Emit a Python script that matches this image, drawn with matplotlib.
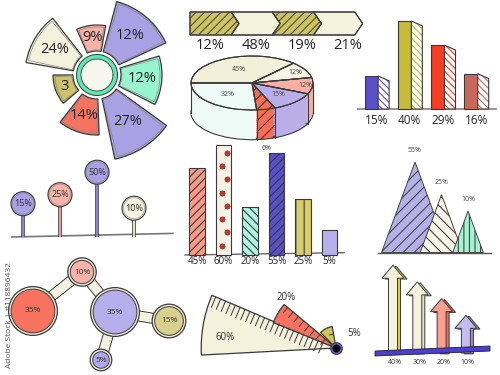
import numpy as np
import matplotlib.pyplot as plt
from matplotlib.patches import Polygon, Wedge

plt.rcParams['font.family'] = ['Open Sans', 'DejaVu Sans']
plt.rcParams['hatch.linewidth'] = 0.8

# ---- data ----
rose_labels = ['12%', '12%', '9%', '24%', '3', '14%', '27%']
rose_len = [65, 76, 50, 72, 44, 60, 86]

chev_labels = ['12%', '48%', '19%', '21%']

bar3d_vals = [15, 40, 29, 16]

pie_vals = [45, 12, 12, 15, 6, 32]

lolli_vals = [15, 25, 50, 10]

bar_vals = [45, 60, 20, 55, 25, 5]

peak_vals = [55, 25, 10]

bubble_vals = [35, 10, 35, 15, 5]

fan_vals = [60, 20, 5]

arrow_vals = [40, 30, 20, 10]

# ---- layout / colours ----
INK = '#3a3a3a'
CREAM = '#f4f2dc'
PURPLE = '#aaa0e4'
PINK = '#f8b2a8'
MINT = '#98f4cf'
OLIVE = '#cbc26a'
RED = '#f8735f'

rose_angle = [-5, 50, 97, 149, 200, 252, 303]
rose_width = [44, 50, 34, 42, 40, 40, 42]
rose_colors = [MINT, PURPLE, PINK, CREAM, OLIVE, RED, PURPLE]

bubble_xy = [(33, 311), (82, 272), (115, 312), (169, 321), (101, 360)]
bubble_links = [(0, 1), (1, 2), (2, 3), (2, 4)]
bubble_colors = [RED, PINK, '#b6aeea', '#d8d08e', '#b0a8ea']

fan_span = [(157, 183), (140, 158), (100, 135)]

W, H = 500, 375
fig = plt.figure(figsize=(5, 3.75), dpi=100)


def panel(x0, y0, x1, y1, ox, oy, sx=1.0, sy=1.0, **kw):
    # axes placed in pixel box; data origin at pixel (ox, oy), sx/sy px per unit
    ax = fig.add_axes([x0 / W, 1 - y1 / H, (x1 - x0) / W, (y1 - y0) / H], **kw)
    ax.set_xlim((x0 - ox) / sx, (x1 - ox) / sx)
    ax.set_ylim((oy - y1) / sy, (oy - y0) / sy)
    ax.set_axis_off()
    return ax


# ---- 1. rose chart ----
cx, cy, R = 97, 75, 95
ax = fig.add_axes([(cx - R) / W, 1 - (cy + R) / H, 2 * R / W, 2 * R / H], projection='polar')
ax.set_ylim(0, R)
ax.set_axis_off()
th = np.deg2rad(rose_angle)
wd = np.deg2rad(rose_width)
ln = np.array(rose_len)
ax.bar(th, ln - 24, width=wd, bottom=24, color=rose_colors, edgecolor=INK, linewidth=0.9)
ax.bar(th, ln - 27, width=wd - np.deg2rad(4), bottom=25, color='none', edgecolor='#888', linewidth=0.5)
for t, r, lab in zip(th, ln, rose_labels):
    ax.text(t, (24 + r) / 2 + 1, lab, ha='center', va='center', fontsize=10.5, color='#222')
ring = np.linspace(0, 2 * np.pi, 200)
ax.fill(ring, np.full(200, 16), color='#f7f6ee', zorder=3)
ax.plot(ring, np.full(200, 18.3), color='#5ee8b2', lw=3.2, zorder=4)
ax.plot(ring, np.full(200, 20.5), color=INK, lw=0.7, zorder=5)
ax.plot(ring, np.full(200, 16), color=INK, lw=0.6, zorder=5)

# ---- 2. chevron progress ----
ax = panel(186, 6, 368, 54, ox=190, oy=35, sx=41.2, sy=23)
d = 0.19
for i, lab in enumerate(chev_labels):
    pts = [(i, 0), (i + 1, 0), (i + 1 + d, 0.5), (i + 1, 1), (i, 1)]
    if i > 0:
        pts.append((i + d, 0.5))
    hatched = i % 2 == 0
    ax.add_patch(Polygon(pts, closed=True, facecolor=OLIVE if hatched else CREAM,
                         edgecolor='#55521e' if hatched else INK, hatch='////' if hatched else None,
                         linewidth=0.8))
    ax.add_patch(Polygon(pts, closed=True, fill=False, edgecolor=INK, linewidth=0.8))
for xl, lab in zip(np.linspace(0.48, 3.83, 4), chev_labels):
    ax.text(xl, -0.45, lab, ha='center', va='center', fontsize=10.5, color='#222')

# ---- 3. 3D bars ----
ax = panel(355, 5, 500, 130, ox=371.5, oy=109, sx=33.2, sy=2.2)
bcols = ['#5b4fc4', '#c8bb3a', '#f43d22', '#c9675c']
xb = np.arange(len(bar3d_vals))
bw, dep, drop = 0.40, 0.33, 2.2
ax.plot([-0.4, 3.75], [0, 0], color='#999', lw=1.5, zorder=0)
ax.bar(xb, bar3d_vals, width=bw, color=bcols, edgecolor=INK, linewidth=0.8, zorder=3)
for x, v, c in zip(xb, bar3d_vals, bcols):
    side = [(x + bw / 2, 0), (x + bw / 2 + dep, 0), (x + bw / 2 + dep, v - drop), (x + bw / 2, v)]
    ax.add_patch(Polygon(side, facecolor='white', edgecolor=c, hatch='\\\\\\\\\\', linewidth=0, zorder=3))
    ax.add_patch(Polygon(side, fill=False, edgecolor=INK, linewidth=0.8, zorder=4))
    ax.text(x + 0.15, -5, f'{v}%', ha='center', va='center', fontsize=8.5, color='#222')

# ---- 4. 3D pie ----
T = 1.1
ax = panel(188, 50, 318, 150, ox=252, oy=83, sx=61, sy=27)
pcols = ['#f2efd8', '#f6f4e4', '#f8b0a4', '#b9aee8', '#f0705a', '#eefaf6']
phatch = [None, None, None, None, '///', None]
nofill = ['none'] * len(pie_vals)
for k, off in enumerate(np.linspace(-T, -0.02, 16)):
    ws, _ = ax.pie(pie_vals, colors=pcols, startangle=180, counterclock=False,
                   center=(0, off), radius=1, hatch=phatch,
                   wedgeprops=dict(linewidth=0, edgecolor=INK))
    for w, h in zip(ws, phatch):
        if h:
            w.set_edgecolor('#6a2418')
            w.set_linewidth(0)
    if k == 0:
        ax.pie(pie_vals, colors=nofill, startangle=180, counterclock=False, center=(0, off),
               wedgeprops=dict(linewidth=0.8, edgecolor=INK))
wedges, _ = ax.pie(pie_vals, colors=pcols, startangle=180, counterclock=False,
                   hatch=phatch, wedgeprops=dict(linewidth=0.8, edgecolor=INK))
for w, h in zip(wedges, phatch):
    if h:
        w.set_edgecolor('#6a2418')
        w.set_linewidth(0)
ax.pie(pie_vals, colors=nofill, startangle=180, counterclock=False,
       wedgeprops=dict(linewidth=0.8, edgecolor=INK))
for w in wedges:
    a = np.deg2rad(w.theta1)
    if np.sin(a) < 0:
        ax.plot([np.cos(a)] * 2, [np.sin(a), np.sin(a) - T], color=INK, lw=0.8)
ax.plot([-1, -1], [0, -T], color=INK, lw=0.8)
ax.plot([1, 1], [0, -T], color=INK, lw=0.8)
lab_r = [0.55, 0.82, 0.88, 0.62, 1.0, 0.6]
for w, v, r in zip(wedges, pie_vals, lab_r):
    a = np.deg2rad((w.theta1 + w.theta2) / 2)
    yy = r * np.sin(a) - (T + 0.35 if v == 6 else 0)
    ax.text(r * np.cos(a), yy, f'{v}%', ha='center', va='center', fontsize=5, color='#444')
ax.set_xlim((188 - 252) / 61, (318 - 252) / 61)
ax.set_ylim((83 - 150) / 27, (83 - 50) / 27)
ax.set_aspect('auto')

# ---- 5. lollipops ----
floor = -22
ax = panel(5, 150, 180, 245, ox=23, oy=237 + floor * 0.9, sx=37, sy=0.9)
lcols = [PURPLE, PINK, PURPLE, CREAM]
stems = ['#8f84d0', '#f09a90', '#8f84d0', '#e4e0c4']
xl = np.arange(len(lolli_vals))
ax.plot([-0.3, 4.05], [floor, floor + 4], color='#777', lw=1.2)
ax.vlines(xl, floor + 0.5, lolli_vals, color=INK, lw=2.6)
ax.vlines(xl, floor + 0.5, lolli_vals, color=stems, lw=1.5)
ax.scatter(xl, lolli_vals, s=300, c=lcols, edgecolors=INK, linewidths=0.8, zorder=3)
ax.scatter(xl, lolli_vals, s=230, c='none', edgecolors='#888', linewidths=0.4, zorder=4)
for x, v in zip(xl, lolli_vals):
    ax.text(x, v, f'{v}%', ha='center', va='center', fontsize=6.5, color='#333', zorder=5)

# ---- 6. bar chart ----
bfloor = -11
ax = panel(183, 135, 348, 270, ox=197, oy=255 + bfloor * 1.55, sx=26.5, sy=1.55)
fcols = ['#fa9a88', '#f6f3e6', '#b0f5e0', '#5a4fc8', '#d6cd6c', '#b8b0ec']
hat = ['////', None, '\\\\\\\\', '////', '||', None]
xc = np.arange(len(bar_vals))
ax.plot([-0.45, 5.55], [bfloor, bfloor + 1.5], color='#666', lw=1.0, zorder=0)
heights = np.array(bar_vals) - bfloor
bars = ax.bar(xc, heights, bottom=bfloor, width=0.58, color=fcols, edgecolor=INK, linewidth=0.8)
for b, h in zip(bars, hat):
    if h:
        b.set_hatch(h)
v1 = bar_vals[1]
dy = np.linspace(bfloor + 6, v1 - 5, 8)
dx = 1 + np.tile([-0.06, 0.12], 4)
ax.scatter(dx, dy, s=14, color='#c8372c', edgecolors='#6a1a14', linewidths=0.4, zorder=3)
for x, v in zip(xc, bar_vals):
    ax.text(x, bfloor - 4.5, f'{v}%', ha='center', va='center', fontsize=7, color='#222')

# ---- 7. triangles ----
tfloor = -28
sxt, syt = 26.5, 1.09
ax = panel(370, 140, 498, 262, ox=415, oy=222, sx=sxt, sy=syt)
tcols = ['#b6b0e8', '#f6f4e6', '#a6f2d2']
thatch = ['///', '\\\\\\', '|||']
for i, (v, c, h) in enumerate(zip(peak_vals, tcols, thatch)):
    hw = 0.37 * (v - tfloor) * syt / sxt
    pts = [(i - hw, tfloor), (i, v), (i + hw, tfloor)]
    ax.add_patch(Polygon(pts, facecolor=c, edgecolor='#444', hatch=h, linewidth=0.7))
    ax.text(i, v + 11, f'{v}%', ha='center', va='center', fontsize=5, color='#444')
ax.plot([-1.4, 2.85], [tfloor, tfloor], color='#555', lw=1.0)

# ---- 8. bubbles ----
ax = panel(0, 250, 195, 375, ox=0, oy=0)
bx = np.array([p[0] for p in bubble_xy])
by = -np.array([p[1] for p in bubble_xy])
for a, b in bubble_links:
    ax.plot([bx[a], bx[b]], [by[a], by[b]], color=INK, lw=8, solid_capstyle='round', zorder=1)
for a, b in bubble_links:
    ax.plot([bx[a], bx[b]], [by[a], by[b]], color='#f3f1de', lw=6.6, solid_capstyle='round', zorder=2)
rpx = 3.7 * np.sqrt(bubble_vals)
ax.scatter(bx, by, s=(2 * 0.72 * (rpx + 2.5)) ** 2, c='#f3f1de', edgecolors=INK, linewidths=0.9, zorder=3)
ax.scatter(bx, by, s=(2 * 0.72 * rpx) ** 2, c=bubble_colors, edgecolors=INK, linewidths=0.7, zorder=4)
for x, y, v in zip(bx, by, bubble_vals):
    ax.text(x, y, f'{v}%', ha='center', va='center', fontsize=6, color='#333', zorder=5)
fig.text(10 / W, 1 - 315 / H, 'Adobe Stock | #118896432', rotation=90, fontsize=6,
         color='#555', ha='center', va='center')

# ---- 9. fan ----
ax = panel(190, 280, 372, 375, ox=336, oy=348)
fcol = [CREAM, RED, '#cfc35a']
tick_len = [11, 7, 4]
tick_step = [5.3, 7, 5]
for v, (t1, t2), c, tl, st in zip(fan_vals, fan_span, fcol, tick_len, tick_step):
    r = 20.5 * np.sqrt(v) - 24
    ax.add_patch(Wedge((0, 0), r, t1, t2, facecolor=c, edgecolor=INK, linewidth=0.9))
    a = np.deg2rad(t1)
    u = np.array([np.cos(a), np.sin(a)])
    n = np.array([-np.sin(a), np.cos(a)])
    for rr in np.arange(14, r - 3, st):
        p = rr * u
        q = p + tl * n
        ax.plot([p[0], q[0]], [p[1], q[1]], color=INK, lw=0.7)
fan_lab = [(-111, 11), (-50, 50), (18, 15)]
for v, (lx, ly) in zip(fan_vals, fan_lab):
    ax.text(lx, ly, f'{v}%', ha='center', va='center', fontsize=7, color='#333')
ax.scatter([0], [0], s=70, c='#6a5ee0', edgecolors=INK, linewidths=0.8, zorder=5)
ax.scatter([0], [0], s=22, c='black', zorder=6)

# ---- 10. arrows ----
afloor = -12.6
sya = 1.67
ax = panel(368, 255, 498, 372, ox=393, oy=332, sx=1, sy=sya)
acols = [CREAM, CREAM, '#f8a090', '#c4bcf0']
shad = ['#d8cc48', '#e6e2c6', '#f06a58', '#9a8ee0']
sw, hw, hl = 4.5, 11, 13 / sya
for i, (v, c, s) in enumerate(zip(arrow_vals, acols, shad)):
    x = i * 24.3
    pts = [(x - sw, afloor), (x - sw, v - hl), (x - hw, v - hl), (x, v),
           (x + hw, v - hl), (x + sw, v - hl), (x + sw, afloor)]
    sh = [(px + 3, py - 0.5) for px, py in pts]
    ax.add_patch(Polygon(sh, facecolor=s, edgecolor=INK, linewidth=0.7))
    ax.add_patch(Polygon(pts, facecolor=c, edgecolor=INK, linewidth=0.7))
    ax.text(x + 2, (332 - 362) / sya, f'{v}%', ha='center', va='center', fontsize=5, color='#333')
base = [(375 - 393, (332 - 351) / sya), (490 - 393, (332 - 346) / sya),
        (490 - 393, (332 - 351) / sya), (375 - 393, (332 - 356) / sya)]
ax.add_patch(Polygon(base, facecolor='#4a3fd0', edgecolor='#222', linewidth=0.6))

fig.savefig('out.png', dpi=100, facecolor='white')
